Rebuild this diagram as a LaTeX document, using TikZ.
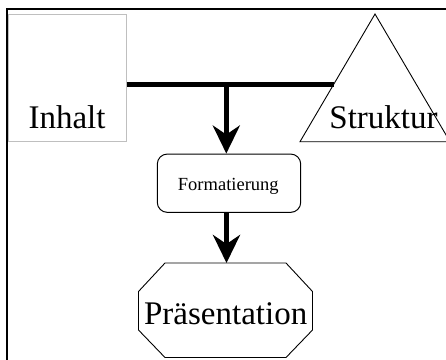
\documentclass[tikz,border=0pt]{standalone}
\usepackage{fontspec}
\setmainfont{Liberation Serif}
\usetikzlibrary{arrows.meta,calc}
\tikzset{
  bigtext/.style={font=\fontsize{33}{40}\selectfont, inner sep=0pt, anchor=base},
  smalltext/.style={font=\fontsize{18.5}{22}\selectfont, inner sep=0pt, anchor=base},
  thickline/.style={line width=5pt},
  thickarrow/.style={line width=5pt, -{Stealth[length=28pt, width=27pt, inset=9pt]}},
  thinline/.style={line width=0.9pt},
  graybox/.style={draw=black!25, line width=1pt, minimum width=117.2pt, minimum height=127pt, inner sep=0pt},
  roundbox/.style={draw, line width=1pt, rounded corners=10pt, minimum width=143.4pt, minimum height=58.3pt, inner sep=0pt}
}
\begin{document}
\begin{tikzpicture}[x=1pt,y=-1pt]
\useasboundingbox (0,0) rectangle (446,359);
\fill[white] (0,0) rectangle (446,359);
% outer frame
\draw[line width=2.4pt] (6.7,9) rectangle (480,390);
% Inhalt
\node[graybox] (inhalt) at (67.4,78) {};
\node[bigtext] (inhaltT) at (67,128) {Inhalt};
% Struktur triangle
\coordinate (sa) at (375,14);
\coordinate (sl) at (300,141.7);
\coordinate (sr) at (450,141.7);
\draw[thinline] (sa) -- (sl) -- (sr) -- cycle;
\node[bigtext] (strukturT) at (383.5,128) {Struktur};
\coordinate (sj) at ($(sa)!0.55!(sl)$);
% horizontal connector
\draw[thickline] (inhalt.east |- sj) -- (sj);
\coordinate (tj) at (226.3,84.2);
% Formatierung
\node[roundbox] (format) at (229,183.2) {};
\node[smalltext] (formatT) at (228.3,190.7) {Formatierung};
% Praesentation octagon
\coordinate (p1) at (165,263);
\coordinate (p2) at (286,263);
\coordinate (p3) at (312.5,291.5);
\coordinate (p4) at (312.5,330);
\coordinate (p5) at (286,357.5);
\coordinate (p6) at (165,357.5);
\coordinate (p7) at (138.5,330);
\coordinate (p8) at (138.5,291.5);
\draw[thinline] (p1) -- (p2) -- (p3) -- (p4) -- (p5) -- (p6) -- (p7) -- (p8) -- cycle;
\node[bigtext] (praeT) at (225.7,324) {Präsentation};
\coordinate (pn) at (226.5,263);
% arrows
\draw[thickarrow] (tj |- sj) -- (tj |- format.north);
\draw[thickarrow] (pn |- format.south) -- (pn);
\end{tikzpicture}
\end{document}
